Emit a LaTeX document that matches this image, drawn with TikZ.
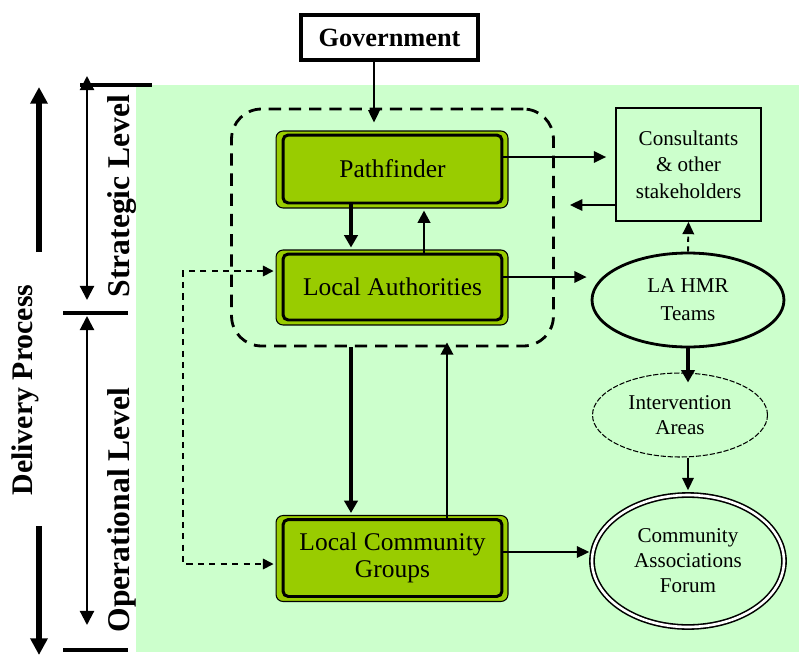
\documentclass[tikz,border=0pt]{standalone}
\usepackage{fontspec}
\setmainfont{Liberation Serif}
\usetikzlibrary{arrows.meta,shapes.geometric,fit,backgrounds}
\definecolor{bggreen}{HTML}{CCFFCC}
\definecolor{boxgreen}{HTML}{99CC00}
\tikzset{
  stagebox/.style={draw,line width=1.7pt,fill=boxgreen,rounded corners=3pt,minimum width=4.38cm,align=center,font=\fontsize{14.5}{15}\selectfont},
  govbox/.style={draw,line width=2pt,fill=white,minimum width=3.54cm,minimum height=0.9cm,font=\bfseries\fontsize{15}{16}\selectfont},
  corebox/.style={draw,line width=1.6pt,dash pattern=on 7pt off 4.5pt,rounded corners=0.6cm,inner xsep=1.0cm,inner ysep=0.49cm},
  sidebox/.style={draw,line width=1pt,minimum width=2.9cm,minimum height=2.26cm,align=center,font=\fontsize{12}{15}\selectfont},
  teamell/.style={ellipse,draw,line width=1.6pt,minimum width=3.84cm,minimum height=1.88cm,align=center,font=\fontsize{12}{16}\selectfont},
  areaell/.style={ellipse,draw,line width=0.6pt,dash pattern=on 3pt off 1pt,minimum width=3.5cm,minimum height=1.68cm,align=center,font=\fontsize{12}{14.5}\selectfont},
  forumell/.style={ellipse,draw,line width=0.9pt,double,double distance=1.5pt,minimum width=3.84cm,minimum height=2.64cm,align=center,font=\fontsize{12}{14.2}\selectfont},
  levtext/.style={rotate=90,font=\bfseries\fontsize{18}{20}\selectfont},
  arr/.style={line width=1.1pt,-{Triangle[length=7pt,width=6.5pt]}},
  midarr/.style={line width=1.5pt,-{Triangle[length=7pt,width=7pt]}},
  bigarr/.style={line width=2pt,-{Triangle[length=7pt,width=7.5pt]}},
  dotarr/.style={arr,dash pattern=on 3pt off 2.5pt},
  linkarr/.style={line width=0.9pt,dash pattern=on 3.5pt off 3pt,{Triangle[length=6pt,width=6pt]}-{Triangle[length=6pt,width=6pt]},shorten <=0.16cm,shorten >=0.16cm},
  deliv/.style={line width=3.4pt,-{Triangle[length=9.5pt,width=9.5pt]}},
  levarr/.style={line width=1.2pt,{Triangle[length=8pt,width=8pt]}-{Triangle[length=8pt,width=8pt]}},
  bar/.style={line width=1.8pt}
}
\begin{document}
\begin{tikzpicture}[x=0.02cm,y=-0.02cm]
\useasboundingbox (0,0) rectangle (799,657);
%boxes
\node[govbox] (gov) at (389.5,37.5) {Government};
\node[stagebox,minimum height=1.36cm] (pf) at (392.5,169) {Pathfinder};
\node[stagebox,minimum height=1.32cm] (la) at (392.5,287) {Local Authorities};
\node[stagebox,minimum height=1.54cm] (lcg) at (392.5,558) {Local Community\\Groups};
\node[corebox,fit=(pf)(la)] (core) {};
\node[sidebox] (cons) at (688.5,164.5) {Consultants\\\& other\\stakeholders};
\node[teamell] (hmr) at (688,300) {LA HMR\\Teams};
\node[areaell] (ia) at (680,415) {Intervention\\Areas};
\node[forumell] (caf) at (688,561) {Community\\Associations\\Forum};
%arrow positions
\coordinate (xg) at (374,0);
\coordinate (xa) at (351,0);
\coordinate (xb) at (424,0);
\coordinate (xc) at (447,0);
\coordinate (ya) at (0,157);
\coordinate (yb) at (0,205);
\coordinate (yc) at (0,277);
\coordinate (yd) at (0,552);
\coordinate (back) at (570,205);
\coordinate (lp) at (183,271);
\coordinate (lq) at (183,564);
%arrows
\draw[arr,shorten >=0.22cm] (gov.south -| xg) -- (pf.north -| xg);
\draw[bigarr,shorten >=0.1cm] (pf.south -| xa) -- (la.north -| xa);
\draw[midarr,shorten >=0.12cm] (la.north -| xb) -- (pf.south -| xb);
\draw[bigarr,shorten >=0.1cm] (core.south -| xa) -- (lcg.north -| xa);
\draw[midarr,shorten >=-0.1cm] (lcg.north -| xc) -- (core.south -| xc);
\draw[arr,shorten >=0.18cm] (pf.east |- ya) -- (cons.west |- ya);
\draw[arr] (cons.west |- yb) -- (back);
\draw[arr,shorten >=0.08cm] (la.east |- yc) -- (hmr.west |- yc);
\draw[dotarr] (hmr.north) -- (cons.south);
\draw[bigarr,shorten >=-0.2cm] (hmr.south) -- (hmr.south |- ia.north);
\draw[arr,shorten >=0.08cm] (ia.south -| hmr.south) -- (caf.north);
\draw[arr,shorten >=0.04cm] (lcg.east |- yd) -- (caf.west |- yd);
\draw[linkarr] (la.west |- lp) -- (lp) -- (lq) -- (lcg.west |- lq);
%levels
\draw[deliv] (39,252) -- (39,87);
\draw[deliv] (39,526) -- (39,655);
\node[levtext,font=\bfseries\fontsize{17}{19}\selectfont] (dp) at (25,390) {Delivery Process};
\foreach\t/\b in {76/300,316/625} {
  \draw[levarr] (87,\t) -- (87,\b);
}
\foreach\y/\a/\c in {85/80/152,313/63/128,650/63/128} {
  \draw[bar] (\a,\y) -- (\c,\y);
}
\node[levtext] (sl) at (122,196) {Strategic Level};
\node[levtext] (ol) at (122,510) {Operational Level};
%background
\begin{scope}[on background layer]
\fill[bggreen] (136,85) rectangle (799,652);
\foreach\n in {pf,la,lcg} {
  \draw[line width=0.6pt,fill=boxgreen,rounded corners=4pt] ([xshift=-0.11cm,yshift=0.05cm]\n.north west) rectangle ([xshift=0.09cm,yshift=-0.07cm]\n.south east);
}
\end{scope}
\end{tikzpicture}
\end{document}
